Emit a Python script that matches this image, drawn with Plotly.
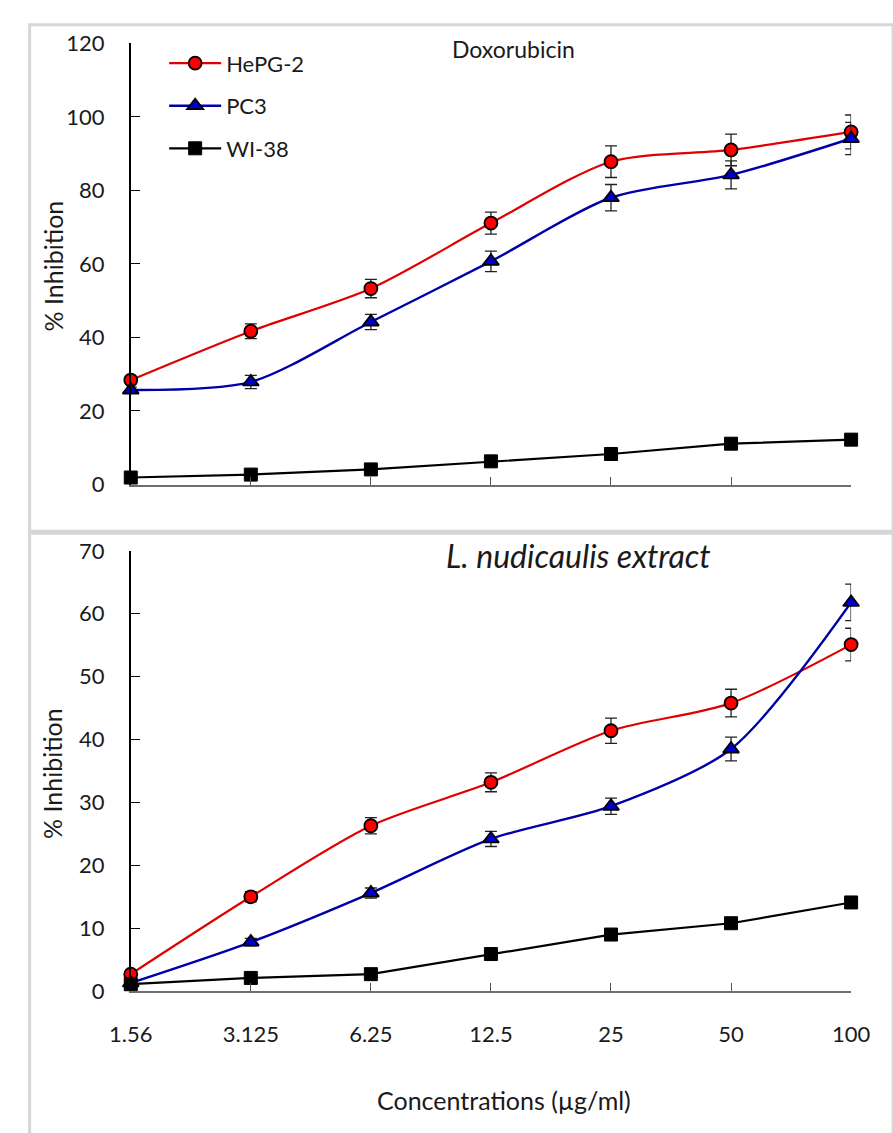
import plotly.graph_objects as go

# ---------------- data ----------------
conc_labels = ["1.56", "3.125", "6.25", "12.5", "25", "50", "100"]
series_names = ["HePG-2", "PC3", "WI-38"]

# Doxorubicin panel
dox_hepg2 = [28.4, 41.7, 53.3, 71.1, 87.8, 91.0, 95.9]
dox_hepg2_err = [1.0, 2.0, 2.5, 3.0, 4.3, 4.3, 4.6]
dox_pc3 = [25.7, 27.9, 44.2, 60.7, 78.0, 84.2, 94.1]
dox_pc3_err = [0.8, 1.8, 2.1, 2.8, 3.6, 3.8, 4.4]
dox_wi38 = [1.9, 2.7, 4.1, 6.3, 8.3, 11.1, 12.2]

# L. nudicaulis extract panel
ext_hepg2 = [2.7, 15.0, 26.3, 33.2, 41.4, 45.8, 55.1]
ext_hepg2_err = [0.4, 0.8, 1.3, 1.5, 2.0, 2.2, 2.6]
ext_pc3 = [1.3, 7.8, 15.6, 24.2, 29.4, 38.5, 61.8]
ext_pc3_err = [0.3, 0.6, 0.8, 1.2, 1.3, 1.9, 2.9]
ext_wi38 = [1.1, 2.1, 2.7, 5.9, 9.0, 10.8, 14.1]

top_yticks = [0, 20, 40, 60, 80, 100, 120]
bot_yticks = [0, 10, 20, 30, 40, 50, 60, 70]

# ---------------- layout helpers ----------------
W, H = 893, 1133
FONT = "Lato, Carlito, Calibri, 'Open Sans', sans-serif"

def px(x):
    return x / W

def py(y):
    return 1 - y / H

red = "#e00000"
blue = "#0000a8"
black = "#000000"

fig = go.Figure()

def add_panel(xa, ya, hep, hep_err, pc3, pc3_err, wi, show_legend):
    err_style = dict(type="data", visible=True, color="#222222", thickness=1.3, width=6)
    fig.add_trace(go.Scatter(
        x=conc_labels, y=hep, name=series_names[0], xaxis=xa, yaxis=ya,
        mode="lines+markers", line=dict(color=red, width=2.2, shape="spline", smoothing=0.8),
        marker=dict(symbol="circle", size=13, color="#ff0000", line=dict(color="black", width=1.8)),
        error_y=dict(array=hep_err, **err_style), cliponaxis=False,
        showlegend=show_legend, legendgroup="a"))
    fig.add_trace(go.Scatter(
        x=conc_labels, y=pc3, name=series_names[1], xaxis=xa, yaxis=ya,
        mode="lines+markers", line=dict(color=blue, width=2.4, shape="spline", smoothing=0.8),
        marker=dict(symbol="triangle-up", size=14, color="#0000cc", line=dict(color="black", width=1.8)),
        error_y=dict(array=pc3_err, **err_style), cliponaxis=False,
        showlegend=show_legend, legendgroup="b"))
    fig.add_trace(go.Scatter(
        x=conc_labels, y=wi, name=series_names[2], xaxis=xa, yaxis=ya,
        mode="lines+markers", line=dict(color=black, width=2.2),
        marker=dict(symbol="square", size=13, color="black", line=dict(color="black", width=1)),
        cliponaxis=False, showlegend=show_legend, legendgroup="c"))

add_panel("x", "y", dox_hepg2, dox_hepg2_err, dox_pc3, dox_pc3_err, dox_wi38, True)
add_panel("x2", "y2", ext_hepg2, ext_hepg2_err, ext_pc3, ext_pc3_err, ext_wi38, False)

tickfont = dict(family=FONT, size=22, color="#1a1a1a")

xcommon = dict(type="category", range=[0, len(conc_labels) - 1], showgrid=False, zeroline=False,
               showline=True, linecolor="#6e6e6e", linewidth=2,
               ticks="inside", ticklen=8, tickcolor="#555555", tickwidth=1.2,
               tickfont=tickfont, domain=[px(114), px(869)])
ycommon = dict(showgrid=False, zeroline=False, showline=True, linecolor="black", linewidth=1.5,
               ticks="inside", ticklen=9, tickcolor="black", tickwidth=1.2,
               tickfont=tickfont, ticklabelstandoff=20)

fig.update_layout(
    width=W, height=H,
    margin=dict(l=0, r=0, t=0, b=0),
    paper_bgcolor="white", plot_bgcolor="white",
    font=dict(family=FONT, size=22, color="#1a1a1a"),
    xaxis=dict(**xcommon, anchor="y", showticklabels=False),
    yaxis=dict(**ycommon, domain=[py(482), py(30)], range=[0, 120], tickvals=top_yticks, anchor="x"),
    xaxis2=dict(**xcommon, anchor="y2", showticklabels=True, ticklabelstandoff=22),
    yaxis2=dict(**ycommon, domain=[py(1001), py(550)], range=[0, 70], tickvals=bot_yticks, anchor="x2"),
    legend=dict(x=px(149), y=py(29), xanchor="left", yanchor="top",
                bgcolor="rgba(0,0,0,0)", font=dict(family=FONT, size=22, color="#1a1a1a"),
                traceorder="grouped", tracegroupgap=11, itemwidth=52),
    showlegend=True,
)

# panel frames
frame = dict(color="#d6d6d6", width=3)
fig.add_shape(type="rect", xref="paper", yref="paper", x0=px(8), x1=px(W + 20),
              y0=py(530), y1=py(11), line=frame, fillcolor="rgba(0,0,0,0)", layer="below")
fig.add_shape(type="rect", xref="paper", yref="paper", x0=px(8), x1=px(W + 20),
              y0=py(H + 20), y1=py(532), line=frame, fillcolor="rgba(0,0,0,0)", layer="below")

# titles
def label(text, x, y, angle=0, size=22):
    fig.add_annotation(text=text, xref="paper", yref="paper", x=px(x), y=py(y),
                       xanchor="center", yanchor="middle", textangle=angle,
                       showarrow=False, font=dict(family=FONT, size=size, color="#1a1a1a"))

label("Doxorubicin", 515, 36, size=23)
label("<i>L. nudicaulis extract</i>", 583, 555, size=32)
label("% Inhibition", 32, 258, angle=-90, size=25)
label("% Inhibition", 32, 778, angle=-90, size=25)
label("Concentrations (µg/ml)", 505, 1113, size=25)

fig.write_html("out.html", config={"displayModeBar": False},
               post_script="document.body.style.margin='0px';document.body.style.overflow='hidden';")
